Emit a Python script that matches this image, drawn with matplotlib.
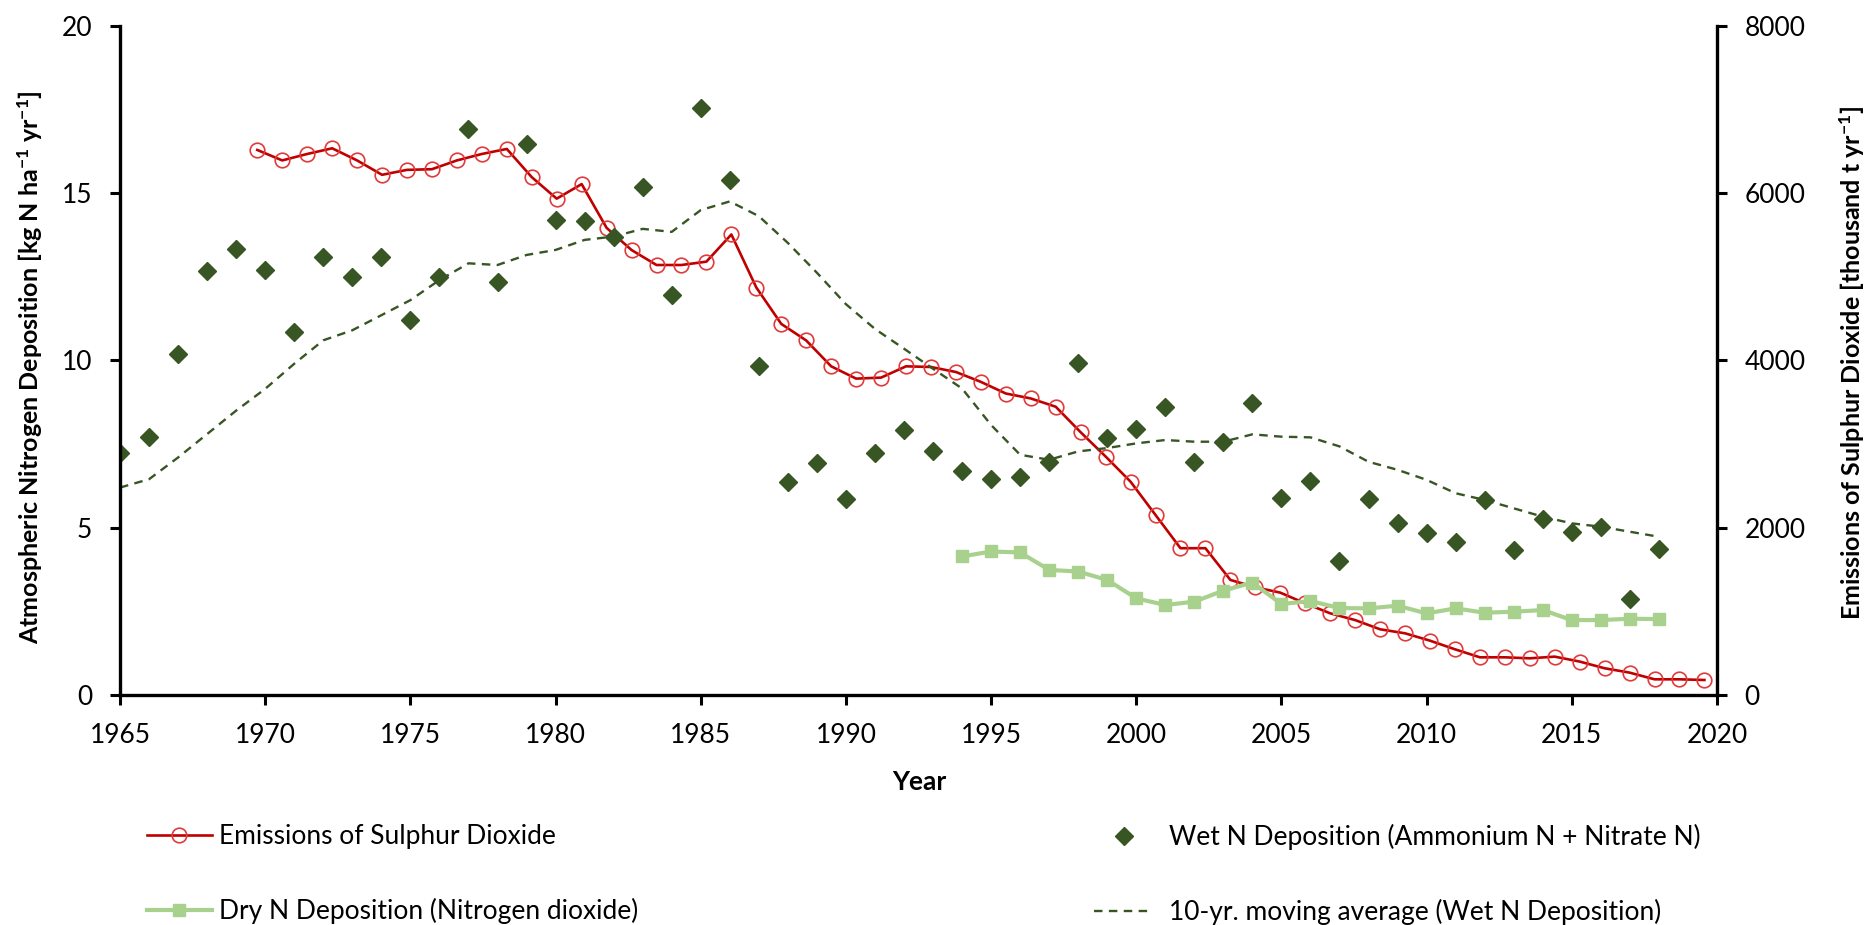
import matplotlib
matplotlib.use('Agg')
import matplotlib.pyplot as plt

plt.rcParams['font.family'] = ['Lato', 'DejaVu Sans']
plt.rcParams['mathtext.fontset'] = 'custom'
plt.rcParams['mathtext.rm'] = 'Lato'
plt.rcParams['mathtext.bf'] = 'Lato:bold'
plt.rcParams['mathtext.it'] = 'Lato:italic'

# ---------------- data ----------------
wet_years = list(range(1965, 2019))
wet_n = [7.23, 7.72, 10.2, 12.67, 13.34, 12.7, 10.84, 13.1, 12.48, 13.09,
         11.2, 12.5, 16.9, 12.35, 16.46, 14.19, 14.16, 13.68, 15.17, 11.95,
         17.55, 15.38, 9.82, 6.38, 6.93, 5.86, 7.22, 7.92, 7.29, 6.70,
         6.45, 6.51, 6.97, 9.92, 7.67, 7.95, 8.60, 6.97, 7.55, 8.72,
         5.88, 6.40, 4.01, 5.85, 5.15, 4.85, 4.58, 5.83, 4.33, 5.27,
         4.88, 5.03, 2.86, 4.37]
wet_mavg = [6.2, 6.45, 7.1, 7.8, 8.5, 9.15, 9.9, 10.6, 10.9, 11.35,
            11.8, 12.4, 12.9, 12.85, 13.15, 13.3, 13.6, 13.7, 13.93, 13.84,
            14.49, 14.75, 14.31, 13.51, 12.62, 11.68, 10.94, 10.35, 9.75, 9.16,
            8.07, 7.18, 7.03, 7.28, 7.38, 7.52, 7.62, 7.57, 7.57, 7.79,
            7.72, 7.70, 7.43, 6.97, 6.73, 6.43, 6.03, 5.83, 5.58, 5.33,
            5.13, 5.03, 4.88, 4.73]
dry_years = list(range(1994, 2019))
dry_n = [4.14, 4.29, 4.26, 3.74, 3.69, 3.44, 2.89, 2.69, 2.79, 3.12,
         3.36, 2.72, 2.81, 2.60, 2.59, 2.67, 2.44, 2.59, 2.46, 2.49,
         2.54, 2.24, 2.24, 2.28, 2.27]
# SO2 is drawn on a hidden secondary category axis (64 categories)
so2_n_categories = 64
so2_category = list(range(5, 64))
so2 = [6515, 6390, 6467, 6535, 6390, 6218, 6277, 6285, 6390, 6467,
       6527, 6190, 5933, 6107, 5584, 5319, 5140, 5140, 5180, 5505,
       4871, 4436, 4238, 3929, 3782, 3794, 3929, 3921, 3861, 3743,
       3604, 3545, 3446, 3141, 2851, 2550, 2152, 1755, 1755, 1376,
       1288, 1224, 1096, 977, 896, 786, 738, 650, 547, 451,
       451, 439, 459, 400, 320, 268, 188, 188, 180]
x_ticks = list(range(1965, 2021, 5))
y_left_ticks = [0, 5, 10, 15, 20]
y_right_ticks = [0, 2000, 4000, 6000, 8000]

labels = ['Emissions of Sulphur Dioxide',
          'Dry N Deposition (Nitrogen dioxide)',
          'Wet N Deposition (Ammonium N + Nitrate N)',
          '10-yr. moving average (Wet N Deposition)']

# ---------------- style ----------------
RED_LINE = '#C00000'
RED_MARK = '#E03A3A'
DARK_GREEN = '#375623'
LIGHT_GREEN = '#A9D18E'
FS = 19
LFS = 18

fig = plt.figure(figsize=(18.76, 9.25), dpi=100)
ax = fig.add_axes([0.064, 0.2486, 0.8512, 0.7236])
axr = ax.twinx()
axs = axr.twiny()

# SO2 on secondary axes
l_so2, = axs.plot(so2_category, so2, color=RED_LINE, lw=1.9, marker='o',
                  ms=10.5, mfc='none', mec=RED_MARK, mew=1.2)
axs.set_xlim(-0.5, so2_n_categories - 0.5)
axs.xaxis.set_visible(False)
for s in axs.spines.values():
    s.set_visible(False)

# primary series
l_mavg, = ax.plot(wet_years, wet_mavg, color=DARK_GREEN, lw=1.7,
                  linestyle=(0, (3.6, 2.7)))
l_dry, = ax.plot(dry_years, dry_n, color=LIGHT_GREEN, lw=3.0, marker='s',
                 ms=9, mfc=LIGHT_GREEN, mec=LIGHT_GREEN)
l_wet, = ax.plot(wet_years, wet_n, linestyle='none', marker='D', ms=8.8,
                 color=DARK_GREEN, mec=DARK_GREEN)

ax.set_xlim(1965, 2020)
ax.set_ylim(0, 20)
axr.set_ylim(0, 8000)
ax.set_xticks(x_ticks)
ax.set_yticks(y_left_ticks)
axr.set_yticks(y_right_ticks)

ax.set_zorder(3)
ax.patch.set_visible(False)
axr.set_zorder(1)
axs.set_zorder(2)

for a in (ax, axr):
    for s in a.spines.values():
        s.set_linewidth(2.4)
        s.set_color('black')
ax.spines['top'].set_visible(False)
ax.spines['right'].set_visible(False)
axr.spines['top'].set_visible(False)
axr.spines['left'].set_visible(False)
axr.spines['bottom'].set_visible(False)

ax.tick_params(axis='both', direction='out', length=7, width=2.2,
               labelsize=FS, pad=13, colors='black')
axr.tick_params(axis='y', direction='out', length=7, width=2.2,
                labelsize=FS, pad=13, colors='black')

ax.set_ylabel(r'Atmospheric Nitrogen Deposition [kg N ha$^{\mathbf{-1}}$ yr$^{\mathbf{-1}}$]',
              fontsize=LFS, fontweight='bold')
ax.yaxis.set_label_coords(-0.0564, 0.49)
ax.yaxis.label.set_va('center')
ax.yaxis.label.set_ha('center')
axr.set_ylabel(r'Emissions of Sulphur Dioxide [thousand t yr$^{\mathbf{-1}}$]',
               fontsize=LFS, fontweight='bold', rotation=90)
axr.yaxis.set_label_coords(1.0846, 0.496)
axr.yaxis.label.set_va('center')
axr.yaxis.label.set_ha('center')

fig.text(919 / 1876, 1 - 782 / 925, 'Year', ha='center', va='center',
         fontsize=FS, fontweight='bold')

# legends
leg_y = 1 - 824 / 925
leg1 = fig.legend([l_so2, l_dry], [labels[0], labels[1]], loc='upper left',
                  bbox_to_anchor=(147 / 1876, leg_y), frameon=False,
                  borderpad=0, borderaxespad=0, handlelength=2.45,
                  handletextpad=0.28, labelspacing=1.85, fontsize=FS)
leg2 = fig.legend([l_wet, l_mavg], [labels[2], labels[3]], loc='upper left',
                  bbox_to_anchor=(1094 / 1876, leg_y), frameon=False,
                  borderpad=0, borderaxespad=0, handlelength=2.25,
                  handletextpad=0.6, labelspacing=1.85, fontsize=FS)

fig.savefig('out.png', dpi=100)
